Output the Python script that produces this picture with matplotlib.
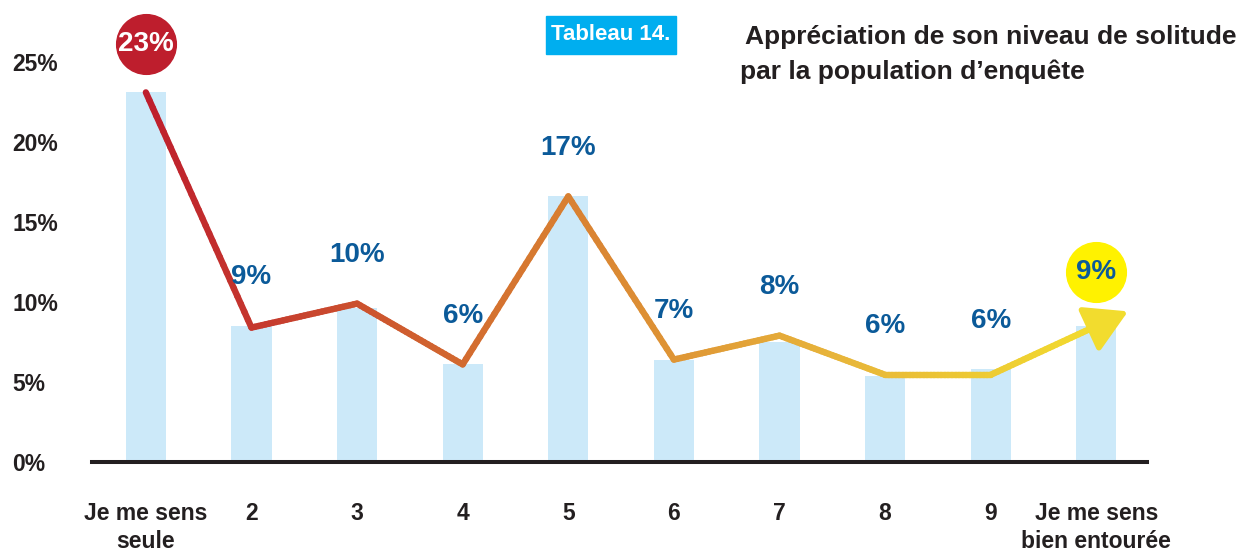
import numpy as np
import matplotlib
matplotlib.use('Agg')
import matplotlib.pyplot as plt
import matplotlib.transforms as mtransforms
from matplotlib.collections import LineCollection
from matplotlib.colors import LinearSegmentedColormap
from matplotlib.patches import Rectangle

# Données
categories = ['Je me sens\nseule', '2', '3', '4', '5', '6', '7', '8', '9',
              'Je me sens\nbien entourée']
bar_values = [23.1, 8.5, 9.6, 6.1, 16.6, 6.4, 7.5, 5.4, 5.8, 8.5]
line_values = [23.1, 8.4, 9.9, 6.1, 16.6, 6.4, 7.9, 5.45, 5.45, 8.5]
value_labels = ['23%', '9%', '10%', '6%', '17%', '7%', '8%', '6%', '6%', '9%']
y_ticks = [0, 5, 10, 15, 20, 25]
y_ticklabels = ['0%', '5%', '10%', '15%', '20%', '25%']

plt.rcParams['font.family'] = ['Liberation Sans', 'DejaVu Sans']
dark = '#231F20'
blue = '#0B5A99'

fig = plt.figure(figsize=(12.4, 5.51), dpi=100)
ax = fig.add_axes([92 / 1240, 1 - 462 / 551, (1147 - 92) / 1240, 456 / 551])

x = np.arange(len(categories))
bars = np.array(bar_values)
line = np.array(line_values)

# Barres bleu clair
ax.bar(x, bars, width=0.38, color='#CCE9F9', zorder=1)

# Ligne en dégradé rouge -> jaune
cmap = LinearSegmentedColormap.from_list('sol', ['#BE1E2D', '#D4702F', '#E7B33A', '#F5E62B'])
xs, ys = [], []
for i in range(len(x) - 1):
    t = np.linspace(0, 1, 30, endpoint=(i == len(x) - 2))
    xs.extend(x[i] + t * (x[i + 1] - x[i]))
    ys.extend(line[i] + t * (line[i + 1] - line[i]))
pts = np.column_stack([xs, ys]).reshape(-1, 1, 2)
segs = np.concatenate([pts[:-1], pts[1:]], axis=1)
lc = LineCollection(segs, cmap=cmap, linewidths=4.6, capstyle='round', joinstyle='round', zorder=3)
lc.set_array(np.array(xs[:-1]) / x[-1] * 0.93)
lc.set_clim(0, 1)
ax.add_collection(lc)

# Flèche finale
ext = 0.3
tip = (x[-1] + ext, line[-1] + ext * (line[-1] - line[-2]))
ax.annotate('', xy=tip, xytext=(x[-1] - 0.05, line[-1] - 0.05 * (line[-1] - line[-2])),
            arrowprops=dict(arrowstyle='-|>,head_length=1.3,head_width=0.75',
                            color=cmap(0.93), lw=4.0, shrinkA=0, shrinkB=0,
                            mutation_scale=20), zorder=4)

# Étiquettes de valeurs
tops = np.maximum(bars, line)
off = mtransforms.offset_copy(ax.transData, fig=fig, y=35, units='points')
off_last = mtransforms.offset_copy(ax.transData, fig=fig, y=39, units='points')
for i, (xi, top, lab) in enumerate(zip(x, tops, value_labels)):
    if i == 0:
        ax.plot([xi], [top], marker='o', markersize=43, color='#BE1E2D',
                linestyle='none', transform=off, zorder=5, clip_on=False)
        ax.text(xi, top, lab, transform=off, ha='center', va='center',
                fontsize=20, fontweight='bold', color='white', zorder=6)
    elif i == len(x) - 1:
        ax.plot([xi], [top], marker='o', markersize=43, color='#FFF200',
                linestyle='none', transform=off_last, zorder=5, clip_on=False)
        ax.text(xi, top, lab, transform=off_last, ha='center', va='center',
                fontsize=20, fontweight='bold', color=blue, zorder=6)
    else:
        ax.text(xi, top, lab, transform=off, ha='center', va='center',
                fontsize=20, fontweight='bold', color=blue, zorder=6)

# Axes
ax.set_xlim(-0.51, 9.48)
ax.set_ylim(0, 28.5)
ax.set_xticks(x)
ax.set_xticklabels(categories, fontsize=16.5, fontweight='bold', color=dark,
                   linespacing=1.25)
ax.set_yticks(y_ticks)
ax.set_yticklabels(y_ticklabels, fontsize=16.5, fontweight='bold', color=dark)
for t in ax.get_yticklabels():
    t.set_horizontalalignment('left')
ax.tick_params(axis='y', length=0, pad=57.6)
ax.tick_params(axis='x', length=0, pad=29)
for s in ['top', 'right', 'left']:
    ax.spines[s].set_visible(False)
ax.spines['bottom'].set_linewidth(2.9)
ax.spines['bottom'].set_color(dark)
ax.spines['bottom'].set_zorder(7)
ax.set_facecolor('none')

# Titre
fig.patches.append(Rectangle((546 / 1240, 1 - 54 / 551), 130 / 1240, 38 / 551,
                             transform=fig.transFigure, color='#00AEEF', zorder=0))
fig.text(611 / 1240, 1 - 35 / 551, 'Tableau 14.', ha='center', va='center',
         fontsize=16, fontweight='bold', color='white')
fig.text(745 / 1240, 1 - 37 / 551, 'Appréciation de son niveau de solitude',
         ha='left', va='center', fontsize=19, fontweight='bold', color=dark)
fig.text(740 / 1240, 1 - 72 / 551, 'par la population d’enquête',
         ha='left', va='center', fontsize=19, fontweight='bold', color=dark)

fig.savefig('out.png', dpi=100)
